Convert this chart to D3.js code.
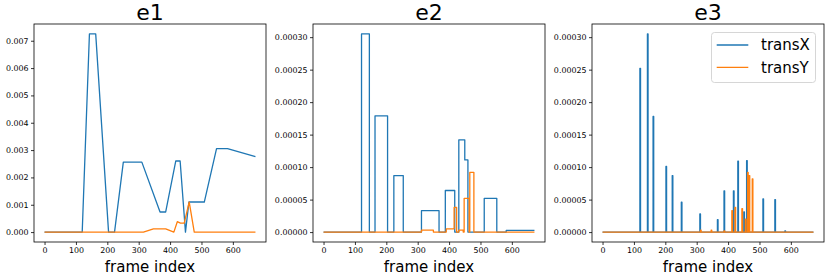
<!DOCTYPE html>
<html>
<head>
<meta charset="utf-8">
<script src="https://cdn.jsdelivr.net/npm/d3@7"></script>
<style>
  body { margin: 0; background: #fff; }
  svg { font-family: "DejaVu Sans", sans-serif; }
</style>
</head>
<body>
<svg id="chart" width="830" height="274"></svg>
<script>
// data: [frame, value]
const e1TransX = [[0,0],[120,0],[143,0.00725],[163,0.00725],[204,0],[223,0],[251,0.00256],[310,0.00256],
  [368,0.000735],[386,0.000735],[418,0.0026],[432,0.0026],[449,0],[460,0.0011],[509,0.0011],
  [548,0.00305],[583,0.00305],[672,0.00276]];
const e1TransY = [[0,0],[315,0],[347,0.00012],[386,0.00012],[412,0],[423,0.00038],[433,0.00033],
  [445,0.00033],[461,0.0011],[477,0],[672,0]];

// e2 is a step signal, each pair = frame where the value changes
const e2TransX = [[0,0],[121,0.000305],[146,0],[164,0.000179],[204,0],[224,0.000087],[254,0],
  [312,0.000033],[368,0],[388,0.000064],[418,0],[431,0.000142],[450,0.000111],[460,0],
  [512,0.000052],[552,0],[582,0.0000025],[672,0.0000025]];
const e2TransY = [[0,0],[312,0.000003],[350,0],[391,0.000005],[416,0.000038],[424,0],[431,0.000003],
  [445,0],[448,0.000052],[464,0],[466,0.000092],[479,0],[672,0]];

// e3 is mostly zero with short spikes
const e3XFrames = [119,143,161,202,222,251,310,366,387,417,431,450,459,511,549,581];
const e3XValues = [25.2e-5,30.5e-5,17.8e-5,10.1e-5,8.7e-5,4.6e-5,2.8e-5,1.9e-5,6.35e-5,6.35e-5,
  10.9e-5,3.1e-5,11.0e-5,5.1e-5,5.0e-5,0.2e-5];
const e3YFrames = [312,346,387,412,422,444,455,462,467,477];
const e3YValues = [0.3e-5,0.3e-5,0.2e-5,3.3e-5,3.8e-5,3.6e-5,2.0e-5,9.2e-5,8.7e-5,8.2e-5];

const lastFrame = 672;
const xTicks = [0,100,200,300,400,500,600];
const e1Ticks = [0,0.001,0.002,0.003,0.004,0.005,0.006,0.007];
const e23Ticks = [0,0.00005,0.0001,0.00015,0.0002,0.00025,0.0003];
const seriesNames = ["transX", "transY"];
const colors = ["#1f77b4", "#ff7f0e"];

function spikes(frames, values) {
  const pts = [[0,0]];
  frames.forEach((f, i) => {
    pts.push([f,0],[f,values[i]],[f+2,values[i]],[f+2,0]);
  });
  pts.push([lastFrame,0]);
  return pts;
}

const svg = d3.select("#chart");
const plotTop = 24, plotBottom = 242, plotW = 232;

const panels = [
  { title: "e1", left: 34, series: [e1TransX, e1TransY], ticks: e1Ticks, fmt: ".3f", ymax: 0.00725, curve: d3.curveLinear },
  { title: "e2", left: 313, series: [e2TransX, e2TransY], ticks: e23Ticks, fmt: ".5f", ymax: 0.000305, curve: d3.curveStepAfter },
  { title: "e3", left: 592, series: [spikes(e3XFrames, e3XValues), spikes(e3YFrames, e3YValues)], ticks: e23Ticks, fmt: ".5f", ymax: 0.000305, curve: d3.curveLinear }
];

panels.forEach((p, idx) => {
  const xPad = lastFrame * 0.05, yPad = p.ymax * 0.05;
  const x = d3.scaleLinear().domain([-xPad, lastFrame + xPad]).range([p.left, p.left + plotW]);
  const y = d3.scaleLinear().domain([-yPad, p.ymax + yPad]).range([plotBottom, plotTop]);

  const g = svg.append("g");

  const line = d3.line().x(d => x(d[0])).y(d => y(d[1])).curve(p.curve);
  p.series.forEach((s, i) => {
    g.append("path")
      .datum(s)
      .attr("d", line)
      .attr("fill", "none")
      .attr("stroke", colors[i])
      .attr("stroke-width", 1.3)
      .attr("stroke-linejoin", "round");
  });

  // axes
  const xAxis = g.append("g")
    .attr("transform", `translate(0,${plotBottom})`)
    .call(d3.axisBottom(x).tickValues(xTicks).tickSize(3).tickPadding(2.5).tickFormat(d3.format("d")));
  const yAxis = g.append("g")
    .attr("transform", `translate(${p.left},0)`)
    .call(d3.axisLeft(y).tickValues(p.ticks).tickSize(3).tickPadding(2.5).tickFormat(d3.format(p.fmt)));
  [xAxis, yAxis].forEach(a => {
    a.select(".domain").remove();
    a.selectAll("text").style("font-size", "7.9px").style("font-family", "DejaVu Sans").attr("fill", "#000");
    a.selectAll("line").attr("stroke", "#000").attr("stroke-width", 0.8);
  });

  g.append("rect")
    .attr("x", p.left).attr("y", plotTop)
    .attr("width", plotW).attr("height", plotBottom - plotTop)
    .attr("fill", "none").attr("stroke", "#000").attr("stroke-width", 0.8);

  g.append("text")
    .attr("x", p.left + plotW / 2).attr("y", 20)
    .attr("text-anchor", "middle")
    .style("font-size", "22px")
    .text(p.title);

  g.append("text")
    .attr("x", p.left + plotW / 2).attr("y", 271.5)
    .attr("text-anchor", "middle")
    .style("font-size", "15px")
    .text("frame index");

  // legend only on the last panel
  if (idx === 2) {
    const lg = g.append("g");
    lg.append("rect")
      .attr("x", 711.5).attr("y", 32.5).attr("width", 104).attr("height", 50).attr("rx", 3)
      .attr("fill", "#fff").attr("fill-opacity", 0.8)
      .attr("stroke", "#ccc").attr("stroke-width", 0.8);
    seriesNames.forEach((name, i) => {
      const ly = 45 + i * 22.3;
      lg.append("line")
        .attr("x1", 716.7).attr("x2", 748.3).attr("y1", ly).attr("y2", ly)
        .attr("stroke", colors[i]).attr("stroke-width", 1.3);
      lg.append("text")
        .attr("x", 761).attr("y", ly + 5.3)
        .style("font-size", "15px")
        .text(name);
    });
  }
});
</script>
</body>
</html>
